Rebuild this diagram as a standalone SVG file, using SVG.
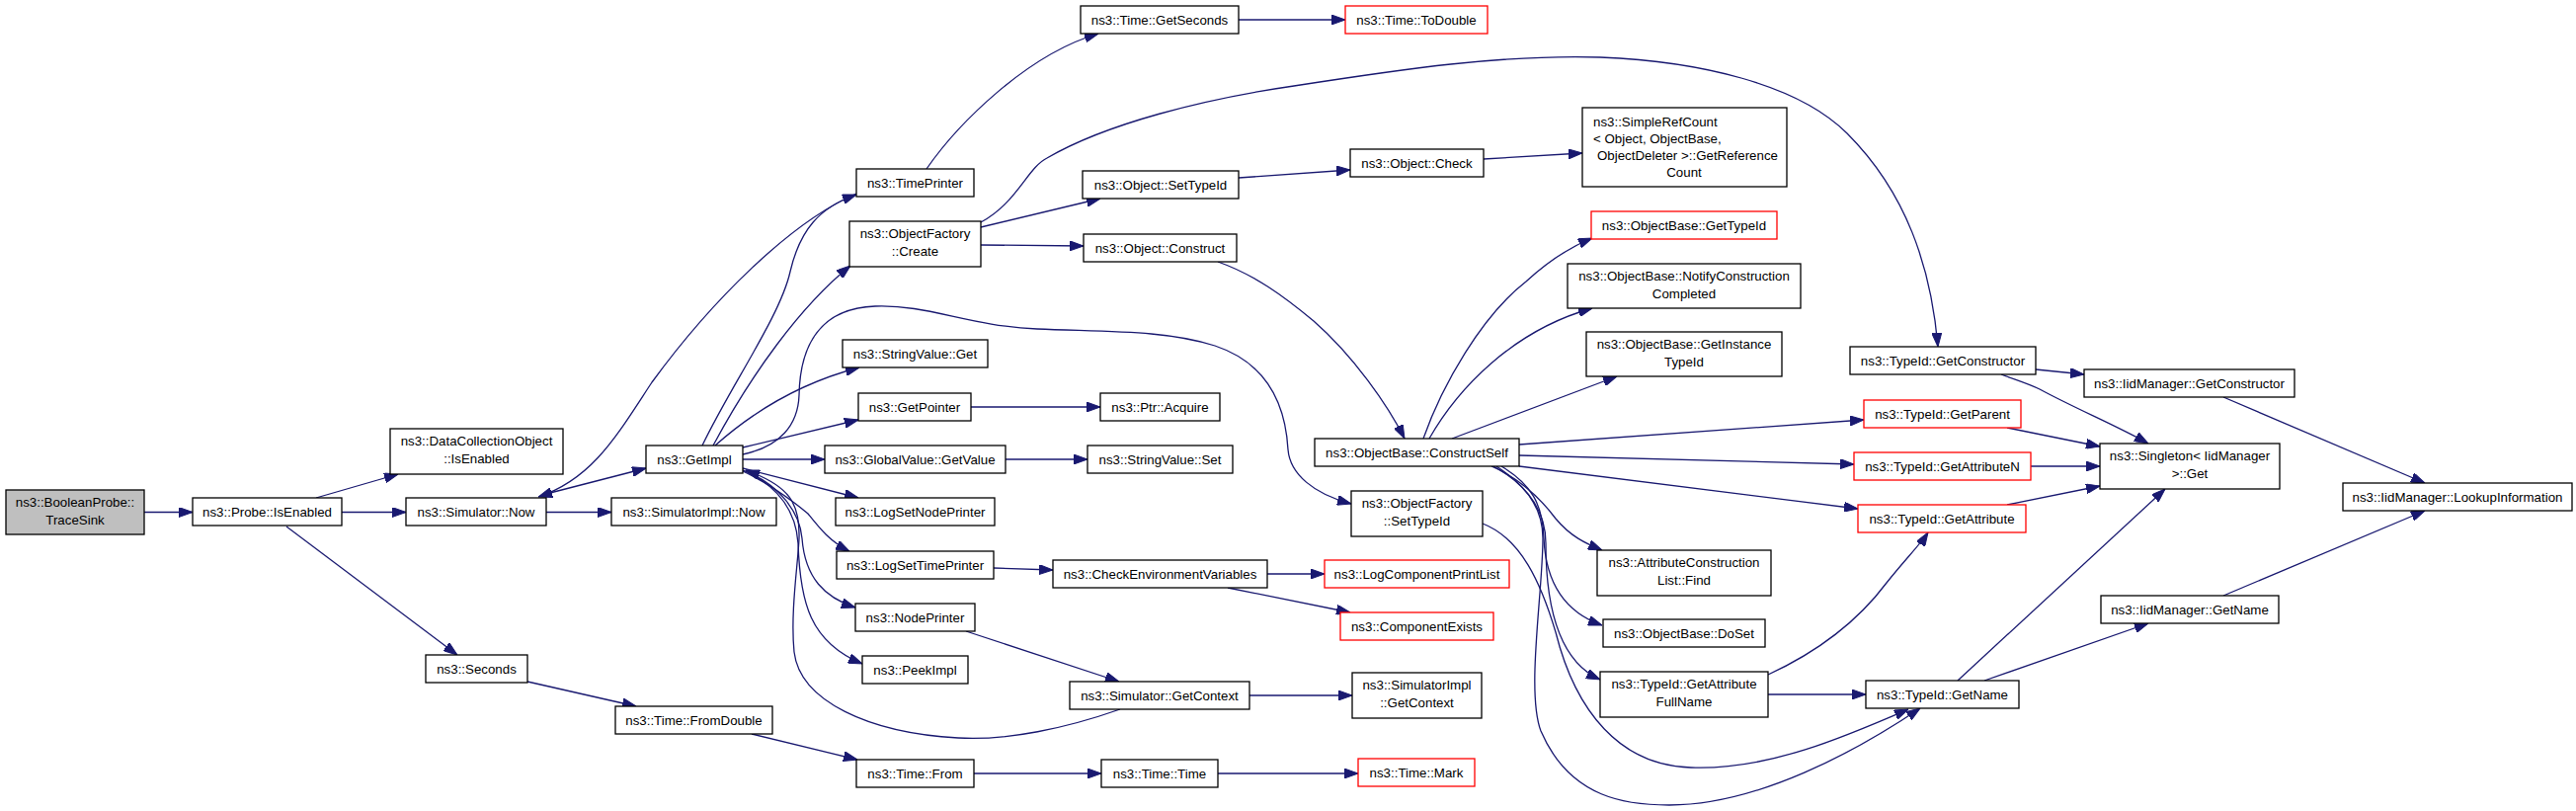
<svg xmlns="http://www.w3.org/2000/svg" width="2608" height="821" viewBox="0 0 2608 821">
<style>
.n rect{fill:#ffffff;stroke:#000000;stroke-width:1.3}
.n.r rect{stroke:#ff0000}
.n.g rect{fill:#bfbfbf}
text{font-family:"Liberation Sans",Arial,Helvetica,sans-serif;font-size:13.3px;fill:#000000;text-anchor:middle}
text.l{text-anchor:start}
#edges path{fill:none;stroke:#191970;stroke-width:1.3;marker-end:url(#ah)}
</style>
<defs>
<marker id="ah" markerUnits="userSpaceOnUse" markerWidth="14" markerHeight="10" refX="14" refY="5" orient="auto">
<path d="M0,0 L14,5 L0,10 z" fill="#191970" stroke="#191970" stroke-width="1"/>
</marker>
</defs>
<rect width="2608" height="821" fill="#ffffff"/>
<g id="edges">
<path d="M146,518.5 L195,518.5"/>
<path d="M320,504 L403,480"/>
<path d="M346,518.5 L411,518.5"/>
<path d="M290,533 L463,663"/>
<path d="M553,518.5 L619,518.5"/>
<path d="M553,500 L654,474"/>
<path d="M867,196 C800,225 720,305 660,387 C625,440 600,485 545,503"/>
<path d="M711,451 C740,390 790,320 800,275 C810,232 830,210 867,197"/>
<path d="M722,451 C760,380 810,310 861,269"/>
<path d="M724,451 C770,410 820,385 870,372"/>
<path d="M752,453 L869,425"/>
<path d="M752,460 C790,452 808,430 809,400 C810,350 830,312 886,310 C940,308 980,330 1050,333 C1120,336 1180,334 1230,350 C1290,370 1302,420 1304,455 C1306,480 1330,500 1368,510"/>
<path d="M752,465 L835,465"/>
<path d="M752,474 L869,504"/>
<path d="M752,477 C780,490 800,505 818,520 C830,535 840,548 860,558"/>
<path d="M752,476 C790,490 810,520 812,545 C815,585 835,605 866,615"/>
<path d="M752,476 C790,492 806,520 808,550 C810,610 820,650 873,672"/>
<path d="M1134,718 C1080,737 1020,750 970,747 C880,742 810,710 804,660 C800,620 808,570 809,545 C810,510 800,492 755,476"/>
<path d="M978,639 L1133,690"/>
<path d="M1265,704 L1369,704"/>
<path d="M938,171 C970,125 1040,55 1112,34"/>
<path d="M1254,20 L1362,20"/>
<path d="M993,230 L1114,201"/>
<path d="M993,248 L1097,249"/>
<path d="M993,225 C1030,205 1040,170 1060,160 C1120,125 1220,100 1310,87 C1420,70 1520,55 1620,58 C1720,62 1820,85 1870,135 C1930,195 1955,270 1962,351"/>
<path d="M1254,180 L1367,172"/>
<path d="M1502,161 L1602,155"/>
<path d="M1233,265 C1270,278 1300,300 1330,325 C1370,360 1405,410 1422,444"/>
<path d="M1441,444 C1460,390 1500,320 1545,285 C1570,262 1590,250 1612,241"/>
<path d="M1447,444 C1475,395 1530,335 1612,312"/>
<path d="M1470,444 L1637,381"/>
<path d="M1538,450 L1887,425"/>
<path d="M1538,461 L1877,470"/>
<path d="M1538,472 L1881,515"/>
<path d="M1510,472 C1540,485 1560,505 1575,525 C1590,543 1605,550 1622,557"/>
<path d="M1520,472 C1550,490 1562,510 1563,545 C1565,590 1585,620 1622,633"/>
<path d="M1515,472 C1550,495 1565,520 1565,550 C1565,620 1580,670 1620,688"/>
<path d="M1512,472 C1545,490 1562,515 1562,545 C1562,600 1545,700 1560,740 C1590,810 1650,815 1690,815 C1780,815 1880,760 1944,717"/>
<path d="M1501,530 C1540,545 1560,590 1575,640 C1595,720 1640,775 1712,777 C1790,780 1870,745 1932,718"/>
<path d="M1790,703 L1889,703"/>
<path d="M1790,683 C1840,660 1880,630 1910,590 C1930,565 1945,550 1952,539"/>
<path d="M2061,374 L2110,379"/>
<path d="M2026,379 C2045,386 2055,389 2065,394 C2100,413 2145,432 2175,449"/>
<path d="M2032,433 L2126,452"/>
<path d="M2056,472 L2126,472"/>
<path d="M2032,511 L2126,492"/>
<path d="M1982,689 L2192,495"/>
<path d="M2009,689 L2175,631"/>
<path d="M2251,402 L2455,489"/>
<path d="M2251,603 L2455,517"/>
<path d="M1283,581 L1341,581"/>
<path d="M1243,595 L1367,620"/>
<path d="M1006,575 L1066,577"/>
<path d="M983,412 L1114,412"/>
<path d="M1018,465 L1101,465"/>
<path d="M534,690 L644,715"/>
<path d="M761,743 L868,769"/>
<path d="M986,783 L1115,783"/>
<path d="M1233,783 L1375,783"/>
</g>
<g id="n_tracesink" class="n g"><rect x="6" y="496" width="140" height="45"/><text x="76" y="513.3">ns3::BooleanProbe::</text><text x="76" y="530.8">TraceSink</text></g>
<g id="n_probe" class="n"><rect x="195" y="504" width="151" height="28"/><text x="270.5" y="522.7">ns3::Probe::IsEnabled</text></g>
<g id="n_dco" class="n"><rect x="395" y="434" width="175" height="46"/><text x="482.5" y="451.3">ns3::DataCollectionObject</text><text x="482.5" y="468.8">::IsEnabled</text></g>
<g id="n_simnow" class="n"><rect x="411" y="504" width="142" height="28"/><text x="482" y="522.7">ns3::Simulator::Now</text></g>
<g id="n_seconds" class="n"><rect x="431" y="663" width="103" height="28"/><text x="482.5" y="681.7">ns3::Seconds</text></g>
<g id="n_simimplnow" class="n"><rect x="619" y="504" width="167" height="28"/><text x="702.5" y="522.7">ns3::SimulatorImpl::Now</text></g>
<g id="n_getimpl" class="n"><rect x="654" y="451" width="98" height="28"/><text x="703" y="469.7">ns3::GetImpl</text></g>
<g id="n_fromdouble" class="n"><rect x="623" y="715" width="159" height="28"/><text x="702.5" y="733.7">ns3::Time::FromDouble</text></g>
<g id="n_timeprinter" class="n"><rect x="867" y="171" width="119" height="28"/><text x="926.5" y="189.7">ns3::TimePrinter</text></g>
<g id="n_ofcreate" class="n"><rect x="860" y="224" width="133" height="46"/><text x="926.5" y="241.3">ns3::ObjectFactory</text><text x="926.5" y="258.8">::Create</text></g>
<g id="n_svget" class="n"><rect x="853" y="344" width="147" height="28"/><text x="926.5" y="362.7">ns3::StringValue::Get</text></g>
<g id="n_getpointer" class="n"><rect x="869" y="398" width="114" height="28"/><text x="926" y="416.7">ns3::GetPointer</text></g>
<g id="n_gvget" class="n"><rect x="835" y="451" width="183" height="28"/><text x="926.5" y="469.7">ns3::GlobalValue::GetValue</text></g>
<g id="n_logsetnode" class="n"><rect x="846" y="504" width="161" height="28"/><text x="926.5" y="522.7">ns3::LogSetNodePrinter</text></g>
<g id="n_logsettime" class="n"><rect x="847" y="558" width="159" height="28"/><text x="926.5" y="576.7">ns3::LogSetTimePrinter</text></g>
<g id="n_nodeprinter" class="n"><rect x="866" y="611" width="121" height="28"/><text x="926.5" y="629.7">ns3::NodePrinter</text></g>
<g id="n_peekimpl" class="n"><rect x="873" y="664" width="107" height="28"/><text x="926.5" y="682.7">ns3::PeekImpl</text></g>
<g id="n_timefrom" class="n"><rect x="867" y="769" width="119" height="28"/><text x="926.5" y="787.7">ns3::Time::From</text></g>
<g id="n_getseconds" class="n"><rect x="1094" y="6" width="160" height="28"/><text x="1174" y="24.7">ns3::Time::GetSeconds</text></g>
<g id="n_objsettypeid" class="n"><rect x="1096" y="173" width="158" height="28"/><text x="1175" y="191.7">ns3::Object::SetTypeId</text></g>
<g id="n_objconstruct" class="n"><rect x="1097" y="237" width="155" height="28"/><text x="1174.5" y="255.7">ns3::Object::Construct</text></g>
<g id="n_ptracquire" class="n"><rect x="1114" y="398" width="121" height="28"/><text x="1174.5" y="416.7">ns3::Ptr::Acquire</text></g>
<g id="n_svset" class="n"><rect x="1101" y="451" width="147" height="28"/><text x="1174.5" y="469.7">ns3::StringValue::Set</text></g>
<g id="n_checkenv" class="n"><rect x="1066" y="567" width="217" height="28"/><text x="1174.5" y="585.7">ns3::CheckEnvironmentVariables</text></g>
<g id="n_simgetctx" class="n"><rect x="1083" y="690" width="182" height="28"/><text x="1174" y="708.7">ns3::Simulator::GetContext</text></g>
<g id="n_timetime" class="n"><rect x="1115" y="769" width="118" height="28"/><text x="1174" y="787.7">ns3::Time::Time</text></g>
<g id="n_todouble" class="n r"><rect x="1362" y="6" width="144" height="28"/><text x="1434" y="24.7">ns3::Time::ToDouble</text></g>
<g id="n_objcheck" class="n"><rect x="1367" y="151" width="135" height="28"/><text x="1434.5" y="169.7">ns3::Object::Check</text></g>
<g id="n_constructself" class="n"><rect x="1331" y="444" width="207" height="28"/><text x="1434.5" y="462.7">ns3::ObjectBase::ConstructSelf</text></g>
<g id="n_ofsettypeid" class="n"><rect x="1368" y="497" width="133" height="46"/><text x="1434.5" y="514.3">ns3::ObjectFactory</text><text x="1434.5" y="531.8">::SetTypeId</text></g>
<g id="n_logcomp" class="n r"><rect x="1341" y="567" width="187" height="28"/><text x="1434.5" y="585.7">ns3::LogComponentPrintList</text></g>
<g id="n_compexists" class="n r"><rect x="1357" y="620" width="155" height="28"/><text x="1434.5" y="638.7">ns3::ComponentExists</text></g>
<g id="n_simimplgetctx" class="n"><rect x="1369" y="681" width="131" height="46"/><text x="1434.5" y="698.3">ns3::SimulatorImpl</text><text x="1434.5" y="715.8">::GetContext</text></g>
<g id="n_mark" class="n r"><rect x="1375" y="768" width="118" height="28"/><text x="1434" y="786.7">ns3::Time::Mark</text></g>
<g id="n_simpleref" class="n"><rect x="1602" y="109" width="207" height="80"/><text class="l" x="1613" y="127.7">ns3::SimpleRefCount</text><text class="l" x="1613" y="144.8">&lt; Object, ObjectBase,</text><text class="l" x="1617" y="161.9">ObjectDeleter &gt;::GetReference</text><text x="1705" y="179">Count</text></g>
<g id="n_obgettypeid" class="n r"><rect x="1611" y="214" width="188" height="28"/><text x="1705" y="232.7">ns3::ObjectBase::GetTypeId</text></g>
<g id="n_notify" class="n"><rect x="1587" y="267" width="236" height="45"/><text x="1705" y="284.3">ns3::ObjectBase::NotifyConstruction</text><text x="1705" y="301.8">Completed</text></g>
<g id="n_getinstance" class="n"><rect x="1606" y="336" width="198" height="45"/><text x="1705" y="353.3">ns3::ObjectBase::GetInstance</text><text x="1705" y="370.8">TypeId</text></g>
<g id="n_acfind" class="n"><rect x="1617" y="557" width="176" height="46"/><text x="1705" y="574.3">ns3::AttributeConstruction</text><text x="1705" y="591.8">List::Find</text></g>
<g id="n_doset" class="n"><rect x="1623" y="627" width="164" height="28"/><text x="1705" y="645.7">ns3::ObjectBase::DoSet</text></g>
<g id="n_getattrfull" class="n"><rect x="1620" y="680" width="170" height="46"/><text x="1705" y="697.3">ns3::TypeId::GetAttribute</text><text x="1705" y="714.8">FullName</text></g>
<g id="n_tgetctor" class="n"><rect x="1873" y="351" width="188" height="28"/><text x="1967" y="369.7">ns3::TypeId::GetConstructor</text></g>
<g id="n_tgetparent" class="n r"><rect x="1887" y="405" width="159" height="28"/><text x="1966.5" y="423.7">ns3::TypeId::GetParent</text></g>
<g id="n_tgetattrn" class="n r"><rect x="1877" y="458" width="179" height="28"/><text x="1966.5" y="476.7">ns3::TypeId::GetAttributeN</text></g>
<g id="n_tgetattr" class="n r"><rect x="1881" y="511" width="170" height="28"/><text x="1966" y="529.7">ns3::TypeId::GetAttribute</text></g>
<g id="n_tgetname" class="n"><rect x="1889" y="689" width="155" height="28"/><text x="1966.5" y="707.7">ns3::TypeId::GetName</text></g>
<g id="n_iidgetctor" class="n"><rect x="2110" y="374" width="213" height="28"/><text x="2216.5" y="392.7">ns3::IidManager::GetConstructor</text></g>
<g id="n_singleton" class="n"><rect x="2126" y="449" width="182" height="46"/><text x="2217" y="466.3">ns3::Singleton&lt; IidManager</text><text x="2217" y="483.8">&gt;::Get</text></g>
<g id="n_iidgetname" class="n"><rect x="2127" y="603" width="180" height="28"/><text x="2217" y="621.7">ns3::IidManager::GetName</text></g>
<g id="n_lookup" class="n"><rect x="2372" y="489" width="232" height="28"/><text x="2488" y="507.7">ns3::IidManager::LookupInformation</text></g>
</svg>
